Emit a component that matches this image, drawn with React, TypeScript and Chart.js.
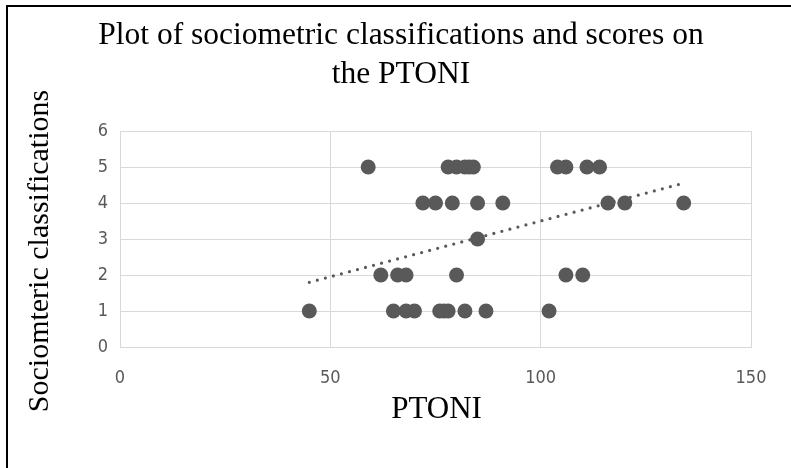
import React, { useEffect, useRef } from "react";
import { Chart, registerables } from "chart.js";

Chart.register(...registerables);

const titleLines = ["Plot of sociometric classifications and scores on", "the PTONI"];
const xAxisTitle = "PTONI";
const yAxisTitle = "Sociomteric classifications";

// PTONI scores grouped by sociometric classification
const ptoniClass5 = [59, 78, 80, 82, 83, 84, 104, 106, 111, 114];
const ptoniClass4 = [72, 75, 79, 85, 91, 116, 120, 134];
const ptoniClass3 = [85];
const ptoniClass2 = [62, 66, 68, 80, 106, 110];
const ptoniClass1 = [45, 65, 68, 70, 76, 77, 78, 82, 87, 102];

const classValues = [5, 4, 3, 2, 1];
const xTickStep = 50;
const yTickStep = 1;

function buildPoints() {
  const groups = [ptoniClass5, ptoniClass4, ptoniClass3, ptoniClass2, ptoniClass1];
  const pts: { x: number; y: number }[] = [];
  groups.forEach((g, i) => g.forEach((x) => pts.push({ x, y: classValues[i] })));
  return pts;
}

function trend(pts: { x: number; y: number }[]) {
  const n = pts.length;
  const mx = pts.reduce((s, p) => s + p.x, 0) / n;
  const my = pts.reduce((s, p) => s + p.y, 0) / n;
  let sxy = 0, sxx = 0;
  pts.forEach((p) => { sxy += (p.x - mx) * (p.y - my); sxx += (p.x - mx) * (p.x - mx); });
  const b = sxy / sxx;
  const a = my - b * mx;
  const xs = pts.map((p) => p.x);
  const x0 = Math.min(...xs), x1 = Math.max(...xs);
  return [{ x: x0, y: a + b * x0 }, { x: x1, y: a + b * x1 }];
}

const SERIF = "'Liberation Serif', 'Times New Roman', serif";

const titlesPlugin = {
  id: "titlesPlugin",
  afterDraw(chart: any) {
    const { ctx, chartArea } = chart;
    ctx.save();
    ctx.fillStyle = "#000000";
    ctx.textAlign = "center";
    ctx.textBaseline = "middle";
    // main title
    ctx.font = `31.5px ${SERIF}`;
    ctx.fillText(titleLines[0], 401, 36);
    ctx.fillText(titleLines[1], 401, 75);
    // x axis title
    ctx.font = `31px ${SERIF}`;
    ctx.fillText(xAxisTitle, (chartArea.left + chartArea.right) / 2 + 1, 410);
    // y axis title
    ctx.font = `30px ${SERIF}`;
    ctx.translate(40, (chartArea.top + chartArea.bottom) / 2 + 12);
    ctx.rotate(-Math.PI / 2);
    ctx.fillText(yAxisTitle, 0, 0);
    ctx.restore();
  },
};

export default function App() {
  const ref = useRef<HTMLCanvasElement>(null);
  useEffect(() => {
    if (!ref.current) return;
    const pts = buildPoints();
    const grey = "#595959";
    const grid = "#d9d9d9";
    const tickFont = { family: "'DejaVu Sans Condensed', 'DejaVu Sans', sans-serif", size: 18 };
    const chart = new Chart(ref.current, {
      type: "scatter",
      data: {
        datasets: [
          {
            type: "line",
            data: trend(pts),
            borderColor: grey,
            borderWidth: 3.2,
            borderDash: [0, 8.3],
            borderCapStyle: "round",
            pointRadius: 0,
            fill: false,
          } as any,
          {
            data: pts,
            backgroundColor: grey,
            borderColor: grey,
            borderWidth: 0,
            pointRadius: 7.5,
          },
        ],
      },
      options: {
        responsive: false,
        animation: false,
        layout: { padding: { left: 8, right: 40, top: 131, bottom: 0 } },
        plugins: {
          legend: { display: false },
          tooltip: { enabled: false },
          title: { display: false },
        },
        scales: {
          x: {
            type: "linear",
            min: 0,
            max: 150,
            ticks: { stepSize: xTickStep, color: grey, font: tickFont, padding: 21 },
            grid: { color: grid, lineWidth: 1, drawTicks: false },
            border: { color: grid, width: 1 },
            afterFit: (s: any) => { s.height = 121; },
          },
          y: {
            type: "linear",
            min: 0,
            max: 6,
            ticks: { stepSize: yTickStep, color: grey, font: tickFont, padding: 12 },
            grid: { color: grid, lineWidth: 1, drawTicks: false },
            border: { color: grid, width: 1 },
            afterFit: (s: any) => { s.width = 112; },
          },
        },
      },
      plugins: [titlesPlugin],
    });
    return () => chart.destroy();
  }, []);
  return (
    <div style={{ position: "fixed", left: 0, top: 0, width: 791, height: 468, overflow: "hidden", background: "#fff" }}>
      <canvas ref={ref} width={791} height={468} style={{ position: "absolute", left: 0, top: 0 }} />
      <div style={{ position: "absolute", left: 6, top: 5, width: 900, height: 600, borderTop: "2px solid #000", borderLeft: "2px solid #000", pointerEvents: "none" }} />
    </div>
  );
}
